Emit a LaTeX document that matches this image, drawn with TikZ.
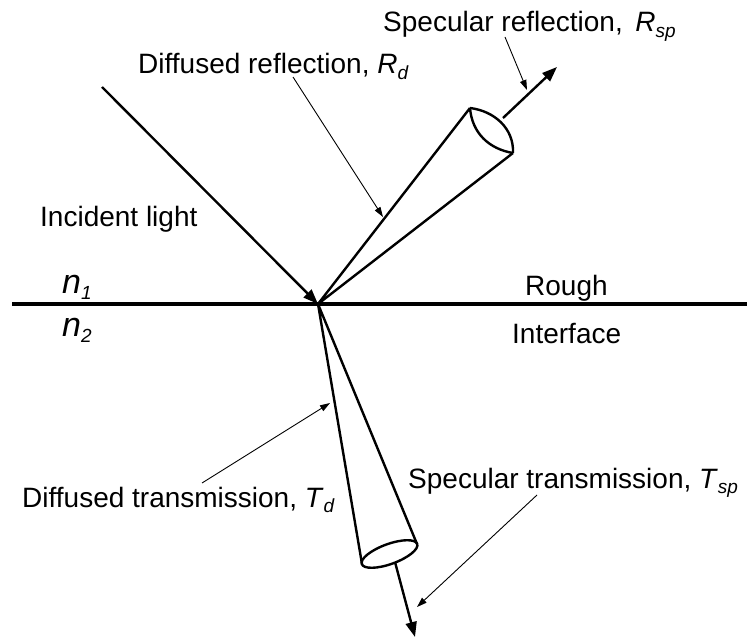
\documentclass[tikz,border=0pt]{standalone}
\usepackage{fontspec}
\setmainfont{Liberation Sans}
\usetikzlibrary{arrows.meta}
\newcommand{\mysub}[1]{\raisebox{-0.35ex}{\fontsize{19}{19}\selectfont\itshape #1}}
\tikzset{
  lbl/.style={anchor=base west, inner sep=0pt, font=\fontsize{28}{32}\selectfont},
  nlbl/.style={anchor=base west, inner sep=0pt, font=\fontsize{34}{38}\selectfont\itshape},
  ray/.style={line width=2.4pt, line join=round},
  rayarrow/.style={ray, -{Triangle[length=15pt,width=11pt]}},
  pointer/.style={line width=0.9pt, -{Triangle[length=10pt,width=6.5pt]}},
  iface/.style={line width=4pt}
}
\begin{document}
\begin{tikzpicture}[x=1pt,y=-1pt]
\useasboundingbox (0,0) rectangle (747,639);
% key points
\coordinate (O) at (318,304);
\coordinate (L) at (12,304);
\coordinate (R) at (747,304);
\coordinate (inc) at (102,87);
\coordinate (A) at (470,108);
\coordinate (B) at (513,153);
\coordinate (rs) at (503,118);
\coordinate (re) at (557,67);
\coordinate (C) at (362,564);
\coordinate (D) at (417,544);
\coordinate (E) at (389.5,554);
\coordinate (ts) at (395,562);
\coordinate (te) at (415,637);
% interface
\draw[iface] (L) -- (R);
% incident
\draw[rayarrow] (inc) -- (O);
% reflection cone
\draw[ray] (A) -- (O) -- (B);
\draw[ray] (A) .. controls (472,133) and (489,149) .. (B);
\draw[ray] (A) .. controls (494,111) and (514,128) .. (B);
\draw[rayarrow] (rs) -- (re);
% transmission cone
\draw[ray] (C) -- (O) -- (D);
\draw[ray] (E) ellipse[x radius=29.5pt, y radius=10pt, rotate=20];
\draw[rayarrow] (ts) -- (te);
% labels
\node[lbl] (lsr) at (383,32) {Specular reflection,\, \textit{R}\mysub{sp}};
\node[lbl] (ldr) at (138,74) {Diffused reflection, \textit{R}\mysub{d}};
\node[lbl] (linc) at (40,226) {Incident light};
\node[nlbl] (n1) at (62,293) {n\mysub{1}};
\node[nlbl] (n2) at (62,336) {n\mysub{2}};
\node[lbl] (rough) at (525,295) {Rough};
\node[lbl] (intf) at (512,343) {Interface};
\node[lbl] (lst) at (408,488) {Specular transmission, \textit{T}\mysub{sp}};
\node[lbl] (ldt) at (22,507) {Diffused transmission, \textit{T}\mysub{d}};
% pointers
\coordinate (p1s) at (505,37);
\coordinate (p1e) at (527,90);
\coordinate (p2s) at (293,77);
\coordinate (p2e) at (383,217);
\coordinate (p3s) at (202,483);
\coordinate (p3e) at (330,403);
\coordinate (p4s) at (537,495);
\coordinate (p4e) at (417,607);
\draw[pointer] (p1s) -- (p1e);
\draw[pointer] (p2s) -- (p2e);
\draw[pointer] (p3s) -- (p3e);
\draw[pointer] (p4s) -- (p4e);
\end{tikzpicture}
\end{document}
